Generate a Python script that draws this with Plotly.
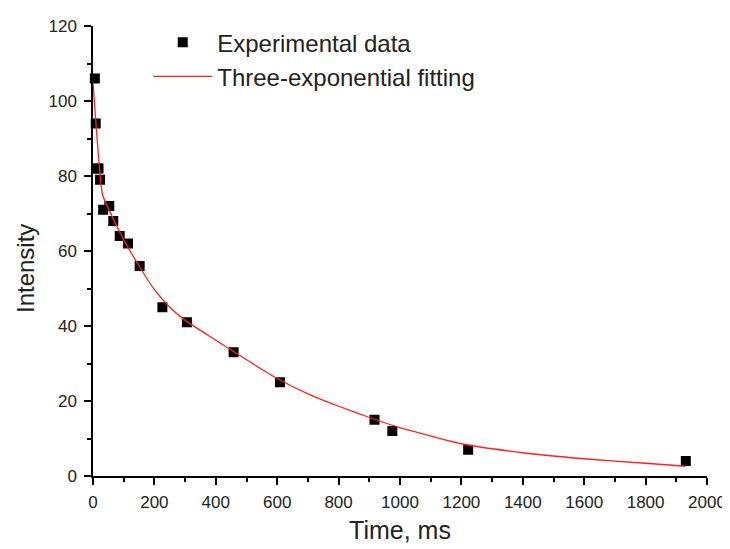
import plotly.graph_objects as go

# experimental points
time_ms = [6, 9, 14, 18, 23, 33, 53, 66, 87, 114, 152, 226, 306, 458, 609, 917, 975, 1222, 1931]
intensity = [106, 94, 82, 82, 79, 71, 72, 68, 64, 62, 56, 45, 41, 33, 25, 15, 12, 7, 4]

# three-exponential fit, sampled from the drawn curve
fit_time = [0, 31, 50, 100, 150, 200, 250, 300, 400, 500, 600, 700, 800, 900, 1000,
            1200, 1400, 1600, 1800, 1930]
fit_intensity = [105, 75, 71.3, 63, 56, 49.7, 45, 41.5, 36.2, 31, 26, 21.9, 18.6,
                 15.6, 12.9, 8.6, 6.2, 4.6, 3.4, 2.6]

fig = go.Figure()
fig.add_trace(go.Scatter(x=time_ms, y=intensity, mode='markers', name='Experimental data',
                         marker=dict(symbol='square', size=10, color='black'),
                         cliponaxis=False))
fig.add_trace(go.Scatter(x=fit_time, y=fit_intensity, mode='lines',
                         name='Three-exponential fitting',
                         line=dict(color='#ff2020', width=1.3, shape='spline', smoothing=0.5)))

axis_common = dict(showline=True, linecolor='black', linewidth=1.5, ticks='outside',
                   ticklen=7, tickwidth=1.5, tickcolor='black', showgrid=False, zeroline=False,
                   tickfont=dict(size=17, color='#222'), mirror=False, automargin=False)

fig.update_xaxes(range=[0, 2000], dtick=200, tick0=0, ticklabelstandoff=3,
                 minor=dict(dtick=100, ticks='outside', ticklen=4, tickwidth=1.5, tickcolor='black'),
                 title=dict(text='Time, ms', font=dict(size=25, color='#222'), standoff=10),
                 **axis_common)
fig.update_yaxes(range=[0, 120], dtick=20, tick0=0, ticklabelstandoff=4,
                 minor=dict(dtick=10, ticks='outside', ticklen=4, tickwidth=1.5, tickcolor='black'),
                 **axis_common)

# y title placed as a note, a little below the axis middle like the original
fig.add_annotation(text='Intensity', xref='paper', yref='paper', x=-0.11, y=0.461,
                   xanchor='center', yanchor='middle',
                   textangle=-90, showarrow=False, font=dict(size=24, color='#222'))

# the page adds an 8px body margin, so the figure is a bit smaller than the window
fig.update_layout(
    width=722, height=541,
    margin=dict(l=85, r=23, t=15, b=73),
    plot_bgcolor='white', paper_bgcolor='white',
    font=dict(family='Liberation Sans, Arial, sans-serif'),
    legend=dict(x=0.09, y=1.013, xanchor='left', yanchor='top', bgcolor='rgba(0,0,0,0)',
                font=dict(size=24, color='#222'), tracegroupgap=0, itemwidth=59),
)

fig.write_html("out.html")
